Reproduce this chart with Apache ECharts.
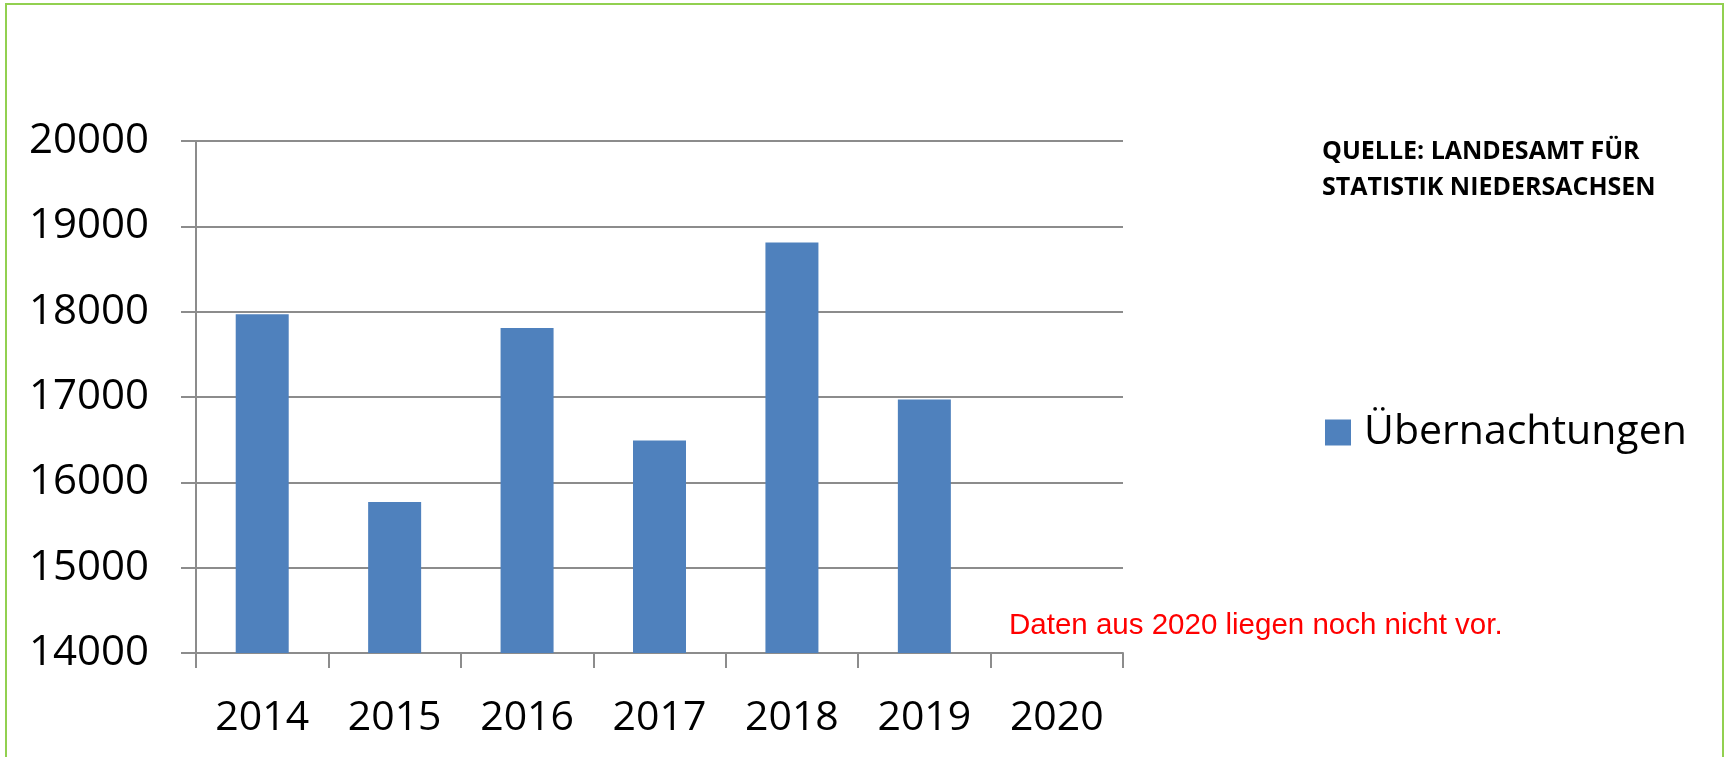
<!DOCTYPE html>
<html>
<head>
<meta charset="utf-8">
<script src="https://cdn.jsdelivr.net/npm/echarts@6/dist/echarts.min.js"></script>
<style>
  html, body { margin: 0; padding: 0; background: #fff; }
  #chart { width: 1730px; height: 757px; }
</style>
</head>
<body>
<div id="chart"></div>
<script>
const years = ['2014', '2015', '2016', '2017', '2018', '2019', '2020'];
const overnightStays = [17970, 15770, 17810, 16490, 18810, 16970, null];
const seriesName = 'Übernachtungen';
const sourceLines = ['QUELLE: LANDESAMT FÜR', 'STATISTIK NIEDERSACHSEN'];
const note = 'Daten aus 2020 liegen noch nicht vor.';

const myChart = echarts.init(document.getElementById('chart'));
const axisColor = '#8c8c8c';

const option = {
  animation: false,
  backgroundColor: '#fff',
  grid: {
    left: 196,
    top: 141,
    right: 607,
    bottom: 104,
    containLabel: false,
  },
  legend: {
    show: true,
    data: [seriesName],
    left: 1320,
    top: 407,
    icon: 'rect',
    itemWidth: 26,
    itemHeight: 26,
    textStyle: {
      fontFamily: 'Open Sans',
      fontSize: 41,
      color: '#000',
      padding: [0, 0, 0, 8],
    },
  },
  xAxis: {
    type: 'category',
    data: years,
    boundaryGap: true,
    axisLine: { show: true, lineStyle: { color: axisColor, width: 2 } },
    axisTick: { show: true, length: 15, lineStyle: { color: axisColor, width: 2 } },
    axisLabel: {
      margin: 45,
      fontFamily: 'Open Sans',
      fontSize: 41,
      color: '#000',
    },
  },
  yAxis: {
    type: 'value',
    min: 14000,
    max: 20000,
    interval: 1000,
    axisLine: { show: true, lineStyle: { color: axisColor, width: 2 } },
    axisTick: { show: true, length: 15, lineStyle: { color: axisColor, width: 2 } },
    splitLine: { show: true, lineStyle: { color: axisColor, width: 2 } },
    axisLabel: {
      margin: 47,
      fontFamily: 'Open Sans',
      fontSize: 42,
      color: '#000',
      formatter: (v) => String(v),
    },
  },
  series: [
    {
      name: seriesName,
      type: 'bar',
      data: overnightStays,
      barWidth: 53,
      itemStyle: { color: '#4F81BD' },
    },
  ],
  graphic: [
    {
      type: 'rect',
      shape: { x: 6, y: 4, width: 1717, height: 820 },
      style: { fill: 'none', stroke: '#92D050', lineWidth: 2 },
      silent: true,
    },
    {
      type: 'text',
      left: 1322,
      top: 139,
      style: {
        text: sourceLines[0],
        fontFamily: 'Open Sans',
        fontWeight: 'bold',
        fontSize: 25,
        fill: '#000',
      },
    },
    {
      type: 'text',
      left: 1322,
      top: 175,
      style: {
        text: sourceLines[1],
        fontFamily: 'Open Sans',
        fontWeight: 'bold',
        fontSize: 25,
        fill: '#000',
      },
    },
    {
      type: 'text',
      left: 1009,
      top: 611,
      style: {
        text: note,
        fontFamily: 'Liberation Sans',
        fontSize: 29.5,
        fill: '#FF0000',
      },
    },
  ],
};

myChart.setOption(option);
window.onresize = () => {
  myChart.resize();
};
</script>
</body>
</html>
